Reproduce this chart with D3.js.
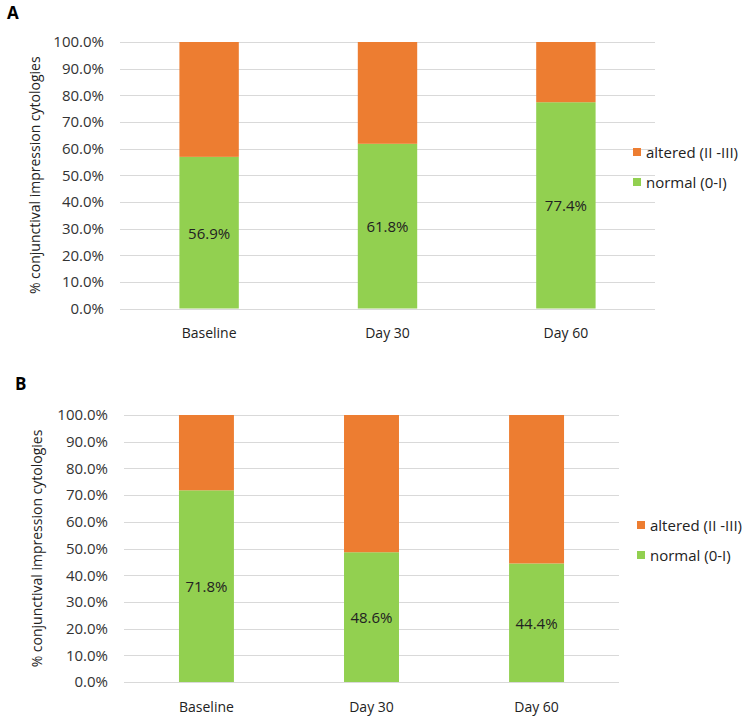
<!DOCTYPE html>
<html><head><meta charset="utf-8">
<script src="https://cdn.jsdelivr.net/npm/d3@7"></script>
<style>body{margin:0;background:#fff}svg{display:block}text{font-family:"Open Sans","Liberation Sans",Arial,sans-serif}</style>
</head><body>
<svg id="c" width="750" height="718"></svg>
<script>
const categories = ["Baseline", "Day 30", "Day 60"];
const normalA = [56.9, 61.8, 77.4];
const normalB = [71.8, 48.6, 44.4];
const tickValues = [0,10,20,30,40,50,60,70,80,90,100];
const seriesNames = ["altered (II -III)", "normal (0-I)"];
const colors = {altered: "#ED7D31", normal: "#92D050"};

const svg = d3.select("#c");

function panel(cfg, normal) {
  const g = svg.append("g");
  const x = d3.scaleBand().domain(categories).range([cfg.x0, cfg.x1]).paddingInner(0.667).paddingOuter(0.333);
  const y = d3.scaleLinear().domain([0,100]).range([cfg.y0, cfg.y1]);
  g.selectAll("line.grid").data(tickValues).join("line")
    .attr("x1", cfg.x0).attr("x2", cfg.x1)
    .attr("y1", d => Math.round(y(d))+0.5).attr("y2", d => Math.round(y(d))+0.5)
    .attr("stroke", "#d9d9d9").attr("stroke-width", 1);
  const ax = d3.axisLeft(y).tickValues(tickValues).tickSize(0).tickPadding(0).tickFormat(d => d.toFixed(1) + "%");
  const axg = g.append("g").attr("transform", `translate(${cfg.tickX},0)`).call(ax);
  axg.select(".domain").remove();
  axg.selectAll("text").attr("font-size", 15).attr("fill", "#333").attr("font-family", '"Open Sans","Liberation Sans",Arial,sans-serif');
  const rows = categories.map((c,i) => ({c, n: normal[i]}));
  g.selectAll("rect.n").data(rows).join("rect")
    .attr("x", d => x(d.c)).attr("width", x.bandwidth())
    .attr("y", d => y(d.n)).attr("height", d => y(0) - y(d.n))
    .attr("fill", colors.normal);
  g.selectAll("rect.a").data(rows).join("rect")
    .attr("x", d => x(d.c)).attr("width", x.bandwidth())
    .attr("y", d => y(100)).attr("height", d => y(d.n) - y(100))
    .attr("fill", colors.altered);
  g.selectAll("text.lbl").data(rows).join("text")
    .attr("x", d => x(d.c) + x.bandwidth()/2).attr("y", d => y(d.n/2))
    .attr("text-anchor", "middle").attr("dominant-baseline", "central")
    .attr("font-size", 15).attr("fill", "#222")
    .text(d => d.n.toFixed(1) + "%");
  g.selectAll("text.cat").data(categories).join("text")
    .attr("x", d => x(d) + x.bandwidth()/2).attr("y", cfg.y0 + 24)
    .attr("text-anchor", "middle").attr("dominant-baseline", "central")
    .attr("font-size", 14).attr("fill", "#222").text(d => d);
  g.append("text").attr("transform", `translate(${cfg.titleX},${(cfg.y0+cfg.y1)/2}) rotate(-90)`)
    .attr("text-anchor", "middle").attr("dominant-baseline", "central")
    .attr("font-size", 14).attr("fill", "#222").text("% conjunctival impression cytologies");
  const leg = [{n: seriesNames[0], c: colors.altered}, {n: seriesNames[1], c: colors.normal}];
  leg.forEach((l, i) => {
    const ly = cfg.legY + i*cfg.legGap;
    g.append("rect").attr("x", cfg.legX).attr("y", ly - 4).attr("width", 8).attr("height", 8).attr("fill", l.c);
    g.append("text").attr("x", cfg.legX + 13).attr("y", ly).attr("dominant-baseline", "central")
      .attr("font-size", 15).attr("fill", "#222").text(l.n);
  });
  svg.append("text").attr("x", cfg.letterX).attr("y", cfg.letterY)
    .attr("font-family", '"Liberation Sans",Arial,sans-serif').attr("font-weight", "bold")
    .attr("font-size", 17).attr("fill", "#000").text(cfg.letter);
}

panel({x0:120, x1:655, y0:308.5, y1:42, tickX:104, titleX:34, legX:633, legY:152, legGap:30, letter:"A", letterX:7, letterY:19}, normalA);
panel({x0:124, x1:619, y0:682, y1:415, tickX:108, titleX:36, legX:637, legY:525, legGap:30, letter:"B", letterX:15, letterY:390}, normalB);
</script>
</body></html>
